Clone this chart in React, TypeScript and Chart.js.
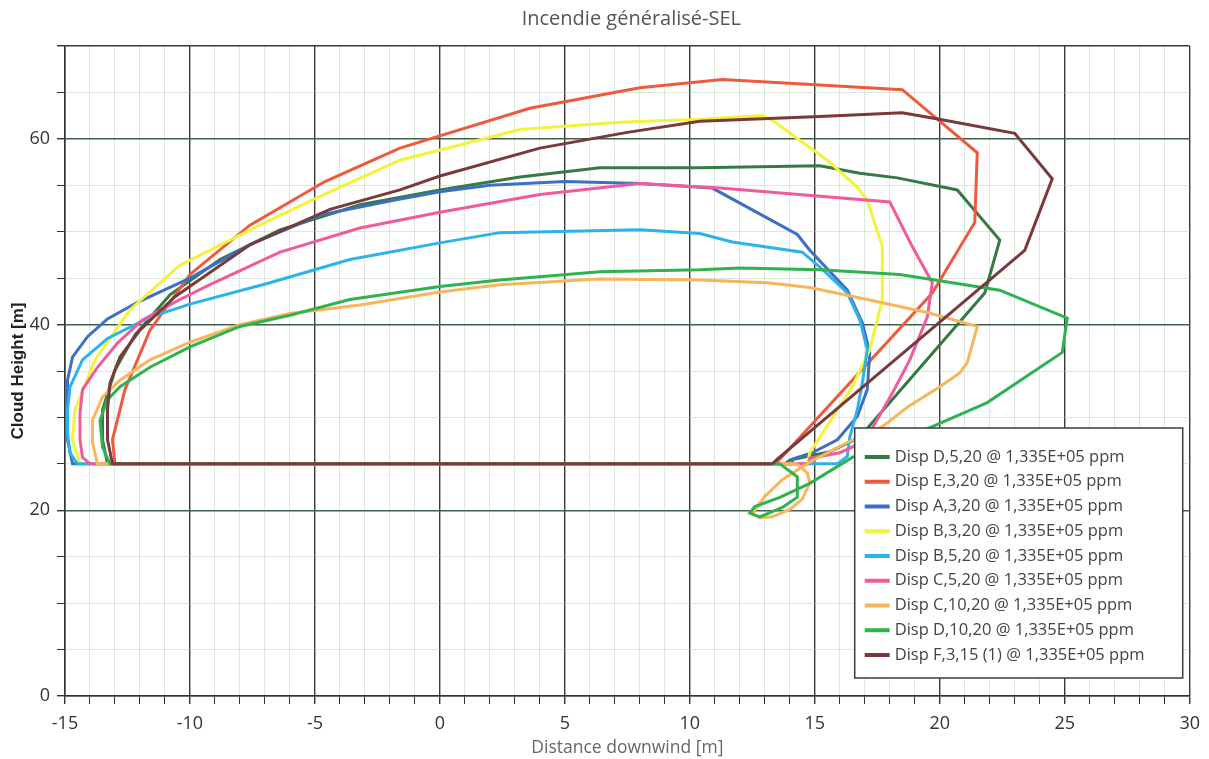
import { useEffect, useRef } from 'react';
import { Chart, registerables } from 'chart.js';

Chart.register(...registerables);

const chartTitle = 'Incendie généralisé-SEL';
const xAxisTitle = 'Distance downwind [m]';
const yAxisTitle = 'Cloud Height [m]';
const xMin = -15;
const xMax = 30;
const yMin = 0;
const yMax = 70;

type Pt = [number, number];

// Cloud outlines: each trace runs up the downwind edge, back along the top,
// down the upwind edge and home along the base at 25 m.
const dispD5: Pt[] = [
  [13.8, 25], [14.0, 25.4], [15.6, 26.3], [16.8, 27.9], [21.8, 43.4], [22.4, 49.1],
  [20.7, 54.5], [18.3, 55.8], [16.8, 56.3], [15.2, 57.1], [10.4, 56.9], [6.4, 56.9],
  [3.2, 55.9], [0, 54.5], [-3.2, 52.9], [-6.4, 50.2], [-8.8, 47.0], [-10.8, 43.2],
  [-12.2, 38.9], [-13.0, 35.1], [-13.5, 30.8], [-13.5, 27.6], [-13.3, 25], [13.8, 25],
];

const dispE3: Pt[] = [
  [13.4, 25], [13.6, 25.5], [19.7, 43.4], [21.4, 51.0], [21.5, 58.5], [18.5, 65.3],
  [15.2, 65.8], [11.3, 66.4], [8.0, 65.5], [3.6, 63.3], [-1.6, 59.0], [-4.6, 55.4],
  [-7.6, 50.7], [-10.0, 45.4], [-11.6, 39.4], [-12.6, 33.0], [-13.1, 27.6], [-13.0, 25],
  [13.4, 25],
];

const dispA3: Pt[] = [
  [14.1, 25], [14.1, 25.5], [14.9, 26.2], [15.9, 27.6], [16.7, 30.1], [17.1, 33.0],
  [17.2, 37.0], [16.9, 40.2], [16.3, 43.7], [14.8, 48.0], [14.3, 49.7], [10.9, 54.7],
  [8.0, 55.2], [5.0, 55.4], [2.0, 55.0], [0, 54.3], [-1.8, 53.4], [-4.8, 51.8],
  [-7.6, 48.6], [-10.0, 45.0], [-12.1, 42.4], [-13.3, 40.6], [-14.1, 38.7],
  [-14.7, 36.5], [-14.9, 34.0], [-14.9, 27.6], [-14.7, 25], [14.1, 25],
];

const dispB3: Pt[] = [
  [14.7, 25], [14.8, 26.2], [16.5, 33.3], [17.2, 37.3], [17.7, 42.7], [17.7, 48.4],
  [17.1, 53.4], [16.7, 54.8], [15.5, 57.7], [13.3, 62.0], [12.9, 62.5], [10.4, 62.1],
  [7.2, 61.8], [3.2, 61.0], [0, 58.8], [-1.6, 57.7], [-4.8, 53.8], [-7.2, 50.7],
  [-10.4, 46.4], [-12.4, 41.6], [-13.8, 36.2], [-14.6, 30.8], [-14.7, 27.6],
  [-14.4, 25], [14.7, 25],
];

const dispB5: Pt[] = [
  [15.9, 25], [16.3, 25.8], [16.4, 27.9], [16.7, 30.8], [16.9, 33.7], [17.1, 37.3],
  [16.8, 40.5], [16.3, 43.4], [15.2, 46.2], [14.5, 47.8], [11.7, 48.9], [10.4, 49.8],
  [8.0, 50.2], [2.4, 49.9], [0, 48.8], [-3.6, 47.0], [-6.8, 44.5], [-10.0, 42.2],
  [-11.6, 40.8], [-13.3, 38.5], [-14.3, 36.2], [-14.8, 33.3], [-14.9, 30.8],
  [-14.9, 28.3], [-14.8, 26.2], [-14.5, 25], [15.9, 25],
];

const dispC5: Pt[] = [
  [14.8, 25], [14.8, 25.6], [16.0, 26.2], [16.5, 26.8], [17.1, 27.9], [18.1, 32.6],
  [18.8, 36.2], [19.5, 40.8], [19.7, 44.5], [18.9, 48.4], [18.0, 53.2], [11.2, 54.7],
  [8.0, 55.2], [4.0, 54.0], [0, 52.1], [-3.2, 50.4], [-6.4, 47.8], [-9.2, 44.3],
  [-10.4, 42.7], [-11.9, 40.5], [-12.9, 38.0], [-13.7, 35.4], [-14.3, 33.0],
  [-14.4, 30.5], [-14.4, 27.6], [-14.3, 25.7], [-14.0, 25], [14.8, 25],
];

const dispC10: Pt[] = [
  [14.3, 25], [14.7, 24.0], [14.8, 23.0], [14.5, 21.2], [14.0, 20.1], [13.3, 19.3],
  [12.8, 19.2], [12.5, 19.6], [13.0, 21.5], [13.7, 23.3], [14.8, 25.2], [16.3, 27.3],
  [17.7, 29.0], [18.7, 31.1], [20.0, 33.3], [20.8, 34.8], [21.1, 35.9], [21.5, 39.8],
  [19.5, 41.3], [17.1, 42.7], [14.8, 44.0], [13.1, 44.5], [10.4, 44.8], [6.4, 44.9],
  [2.4, 44.3], [0, 43.5], [-3.2, 42.1], [-6.0, 41.2], [-8.0, 40.0], [-10.0, 38.1],
  [-11.6, 36.2], [-12.8, 34.0], [-13.5, 32.2], [-13.9, 29.7], [-13.9, 27.3],
  [-13.7, 25], [14.3, 25],
];

const dispD10: Pt[] = [
  [13.6, 25], [14.3, 23.6], [14.3, 21.4], [13.7, 20.3], [12.8, 19.3], [12.4, 19.7],
  [12.6, 20.4], [13.6, 21.4], [14.8, 22.9], [16.5, 25.7], [19.7, 29.0], [21.9, 31.6],
  [24.9, 37.0], [25.1, 40.7], [22.4, 43.7], [18.4, 45.4], [15.2, 45.9], [12.0, 46.1],
  [10.4, 45.9], [6.4, 45.7], [2.4, 44.8], [0, 44.1], [-3.6, 42.7], [-6.0, 41.0],
  [-8.0, 39.8], [-10.0, 37.6], [-11.6, 35.4], [-12.8, 33.3], [-13.3, 31.9],
  [-13.6, 29.7], [-13.5, 26.8], [-13.2, 25], [13.6, 25],
];

const dispF3: Pt[] = [
  [13.3, 25], [13.5, 25.5], [23.4, 48.0], [24.5, 55.7], [23.0, 60.6], [20.2, 62.0],
  [18.5, 62.8], [15.2, 62.4], [10.4, 61.9], [7.5, 60.7], [4.0, 59.0], [0, 56.0],
  [-1.6, 54.5], [-4.4, 52.4], [-7.6, 48.6], [-10.6, 43.0], [-12.0, 39.4], [-12.8, 36.5],
  [-13.2, 33.7], [-13.3, 30.8], [-13.3, 27.6], [-13.1, 25], [13.3, 25],
];

const seriesLabels = [
  'Disp D,5,20 @ 1,335E+05 ppm',
  'Disp E,3,20 @ 1,335E+05 ppm',
  'Disp A,3,20 @ 1,335E+05 ppm',
  'Disp B,3,20 @ 1,335E+05 ppm',
  'Disp B,5,20 @ 1,335E+05 ppm',
  'Disp C,5,20 @ 1,335E+05 ppm',
  'Disp C,10,20 @ 1,335E+05 ppm',
  'Disp D,10,20 @ 1,335E+05 ppm',
  'Disp F,3,15 (1) @ 1,335E+05 ppm',
];
const seriesPoints = [dispD5, dispE3, dispA3, dispB3, dispB5, dispC5, dispC10, dispD10, dispF3];
const seriesColors = [
  '#357a45', '#ee5a3d', '#3f6fc4', '#f3f33c', '#2cb3ea',
  '#f05b9c', '#f6b65c', '#30b24f', '#7a3a3c',
];

const FONT = '"Open Sans", "DejaVu Sans", sans-serif';

const titlePlugin = {
  id: 'topTitle',
  afterDraw(chart: any) {
    const { ctx, chartArea } = chart;
    ctx.save();
    ctx.font = `20px ${FONT}`;
    ctx.fillStyle = '#555';
    ctx.textAlign = 'center';
    ctx.textBaseline = 'middle';
    ctx.fillText(chartTitle, (chartArea.left + chartArea.right) / 2 + 4, 19);
    ctx.restore();
  },
};

const legendPlugin = {
  id: 'boxLegend',
  afterDraw(chart: any) {
    const { ctx, chartArea } = chart;
    const w = 328;
    const h = 250;
    const x = chartArea.right - 335;
    const y = chartArea.bottom - 268;
    ctx.save();
    ctx.fillStyle = '#ffffff';
    ctx.fillRect(x, y, w, h);
    ctx.strokeStyle = '#3a3a3a';
    ctx.lineWidth = 1.5;
    ctx.strokeRect(x, y, w, h);
    ctx.font = `16.5px ${FONT}`;
    ctx.textBaseline = 'middle';
    ctx.textAlign = 'left';
    chart.data.datasets.forEach((ds: any, i: number) => {
      const cy = y + 29 + i * 24.75;
      ctx.strokeStyle = ds.borderColor;
      ctx.lineWidth = 4;
      ctx.beginPath();
      ctx.moveTo(x + 10, cy);
      ctx.lineTo(x + 35, cy);
      ctx.stroke();
      ctx.fillStyle = '#444';
      ctx.fillText(ds.label, x + 40, cy);
    });
    ctx.restore();
  },
};

export default function App() {
  const canvasRef = useRef<HTMLCanvasElement | null>(null);

  useEffect(() => {
    if (!canvasRef.current) return;
    const chart = new Chart(canvasRef.current, {
      type: 'scatter',
      data: {
        datasets: seriesPoints.map((pts, i) => ({
          label: seriesLabels[i],
          data: pts.map(([x, y]) => ({ x, y })),
          showLine: true,
          borderColor: seriesColors[i],
          backgroundColor: seriesColors[i],
          borderWidth: 3,
          pointRadius: 0,
          tension: 0,
          order: seriesPoints.length - i,
        })),
      },
      options: {
        responsive: false,
        animation: false,
        layout: { padding: { top: 46, right: 19, left: 0, bottom: 0 } },
        plugins: {
          legend: { display: false },
          title: { display: false },
          tooltip: { enabled: false },
        },
        scales: {
          x: {
            type: 'linear',
            min: xMin,
            max: xMax,
            afterFit: (s: any) => { s.height = 63; },
            ticks: {
              stepSize: 1,
              autoSkip: false,
              maxRotation: 0,
              padding: 9,
              color: '#333',
              font: { family: FONT, size: 18 },
              callback: (v: any) => (Number(v) % 5 === 0 ? String(v) : ''),
            },
            grid: {
              color: (c: any) => (c.tick && c.tick.value % 5 === 0 ? '#3a3a3a' : 'rgba(175,205,175,0.45)'),
              lineWidth: (c: any) => (c.tick && c.tick.value % 5 === 0 ? 1.4 : 1),
              tickColor: '#333',
              tickLength: 8,
            },
            border: { display: true, color: '#333', width: 1.5 },
            title: {
              display: true,
              text: xAxisTitle,
              color: '#666',
              font: { family: FONT, size: 17.5 },
              padding: { top: 0, bottom: 0 },
            },
          },
          y: {
            type: 'linear',
            min: yMin,
            max: yMax,
            afterFit: (s: any) => { s.width = 65; },
            ticks: {
              stepSize: 5,
              autoSkip: false,
              padding: 7,
              color: '#333',
              font: { family: FONT, size: 18 },
              callback: (v: any) => (Number(v) % 20 === 0 ? String(v) : ''),
            },
            grid: {
              color: (c: any) => {
                const v = c.tick ? c.tick.value : 0;
                if (v === yMax) return '#3a3a3a';
                return v % 20 === 0 ? '#3f6049' : 'rgba(175,205,175,0.45)';
              },
              lineWidth: (c: any) => {
                const v = c.tick ? c.tick.value : 0;
                return v % 20 === 0 || v === yMax ? 1.4 : 1;
              },
              tickColor: '#333',
              tickLength: 8,
            },
            border: { display: true, color: '#333', width: 1.5 },
            title: {
              display: true,
              text: yAxisTitle,
              color: '#222',
              font: { family: '"Liberation Sans", Arial, sans-serif', size: 17, weight: 'bold' },
              padding: { top: 8, bottom: 0 },
            },
          },
        },
      },
      plugins: [titlePlugin, legendPlugin],
    });
    return () => chart.destroy();
  }, []);

  return (
    <canvas
      ref={canvasRef}
      width={1209}
      height={759}
      style={{ position: 'fixed', left: 0, top: 0, width: 1209, height: 759, display: 'block', background: '#fff' }}
    />
  );
}
